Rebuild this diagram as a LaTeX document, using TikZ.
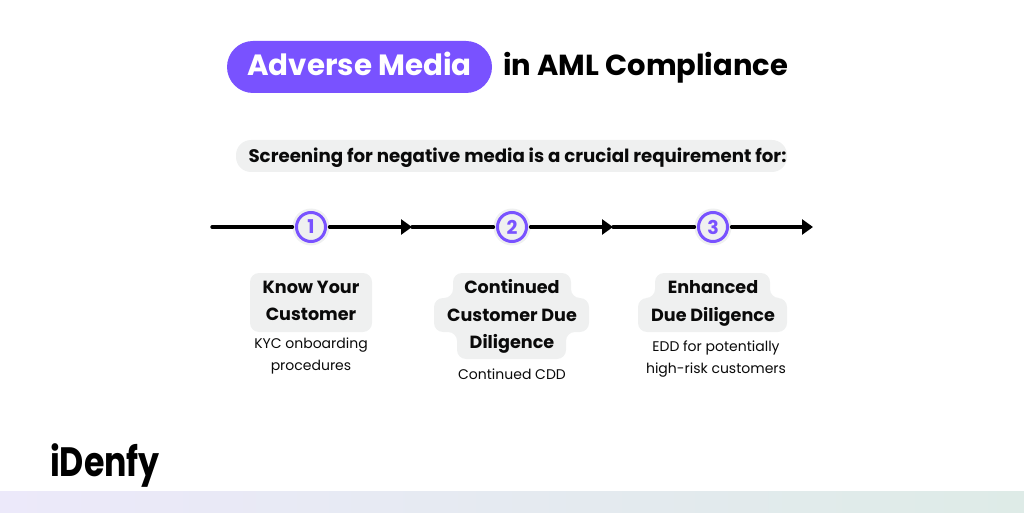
\documentclass[tikz,border=0pt]{standalone}
\usepackage{fontspec}
\setmainfont{Poppins}
\usetikzlibrary{arrows.meta,positioning}
\definecolor{PurpleClr}{RGB}{121,82,255}
\definecolor{PaleClr}{RGB}{239,240,240}
\definecolor{InkClr}{RGB}{10,10,10}
\definecolor{StripL}{RGB}{236,233,250}
\definecolor{StripM}{RGB}{240,241,246}
\definecolor{StripR}{RGB}{222,235,231}

\tikzset{
  headtxt/.style={font=\bfseries\fontsize{17.6}{27.5}\selectfont,text=InkClr,inner sep=0pt,align=center},
  subtxt/.style={font=\fontsize{14}{22}\selectfont,text=InkClr,inner sep=0pt,align=center},
  haloball/.style={circle,fill=PaleClr,minimum size=37pt,inner sep=0pt,outer sep=0pt},
  numball/.style={circle,draw=PurpleClr,line width=3pt,fill=PaleClr,minimum size=29pt,inner sep=0pt,
    text=PurpleClr,font=\bfseries\fontsize{19}{19}\selectfont},
  flowline/.style={line width=3.4pt,draw=black,line cap=round},
  flowarrow/.style={flowline,-{Triangle[length=11pt,width=15pt]}}
}

\begin{document}
\begin{tikzpicture}[x=1pt,y=1pt]
\useasboundingbox (0,0) rectangle (1024,512);

\shade[left color=StripL,middle color=StripM,right color=StripR] (0,0) rectangle (1024,21);

\node[fill=PurpleClr,rounded corners=26pt,minimum width=265pt,minimum height=52pt,inner sep=0pt,text depth=6pt,
  text=white,font=\bfseries\fontsize{29.3}{29.3}\selectfont] (pill) at (359.5,445) {Adverse Media};
\node[anchor=west,inner sep=0pt,text=black,font=\bfseries\fontsize{29}{29}\selectfont] (title) at (503,444) {in AML Compliance};

\node[fill=PaleClr,rounded corners=15pt,minimum width=551pt,minimum height=32pt,inner sep=0pt,text depth=2pt,
  text=InkClr,font=\bfseries\fontsize{18.2}{18.2}\selectfont] (banner) at (511.5,356) {\hspace*{12pt}Screening for negative media is a crucial requirement for:};

\coordinate (start) at (212,285);
\coordinate (tipA) at (412,285);
\coordinate (tipB) at (613,285);
\coordinate (tipC) at (813,285);

\node[haloball] (haloA) at (311,285) {};
\node[haloball] (haloB) at (512,285) {};
\node[haloball] (haloC) at (713,285) {};
\node[numball] (stepA) at (haloA) {1};
\node[numball] (stepB) at (haloB) {2};
\node[numball] (stepC) at (haloC) {3};

\draw[flowline] (start) -- (haloA);
\draw[flowarrow] (haloA) -- (tipA);
\draw[flowline] (tipA) -- (haloB);
\draw[flowarrow] (haloB) -- (tipB);
\draw[flowline] (tipB) -- (haloC);
\draw[flowarrow] (haloC) -- (tipC);

\fill[PaleClr,rounded corners=9pt] (250,239) rectangle (372,180);
\fill[PaleClr,rounded corners=9pt] (453,239) -- (571,239) -- (571,214) -- (589,214) -- (589,180)
  -- (566,180) -- (566,153) -- (457,153) -- (457,180) -- (434,180) -- (434,214) -- (453,214) -- cycle;
\fill[PaleClr,rounded corners=9pt] (655,239) -- (770,239) -- (770,214) -- (787,214) -- (787,180)
  -- (638,180) -- (638,214) -- (655,214) -- cycle;

\node[headtxt] (headA) at (311,211) {Know Your\\Customer};
\node[headtxt] (headB) at (512,195.5) {Continued\\Customer Due\\Diligence};
\node[headtxt] (headC) at (713,208.5) {Enhanced\\Due Diligence};

\node[subtxt] (subA) at (311,156) {KYC onboarding\\procedures};
\node[subtxt] (subB) at (512,138) {Continued CDD};
\node[subtxt] (subC) at (716,152.5) {EDD for potentially\\high-risk customers};

\node[anchor=base west,inner sep=0pt,text=black,transform shape,xscale=.81,font=\bfseries\fontsize{41}{41}\selectfont] (logo) at (50,36) {iDenfy};
\end{tikzpicture}
\end{document}
